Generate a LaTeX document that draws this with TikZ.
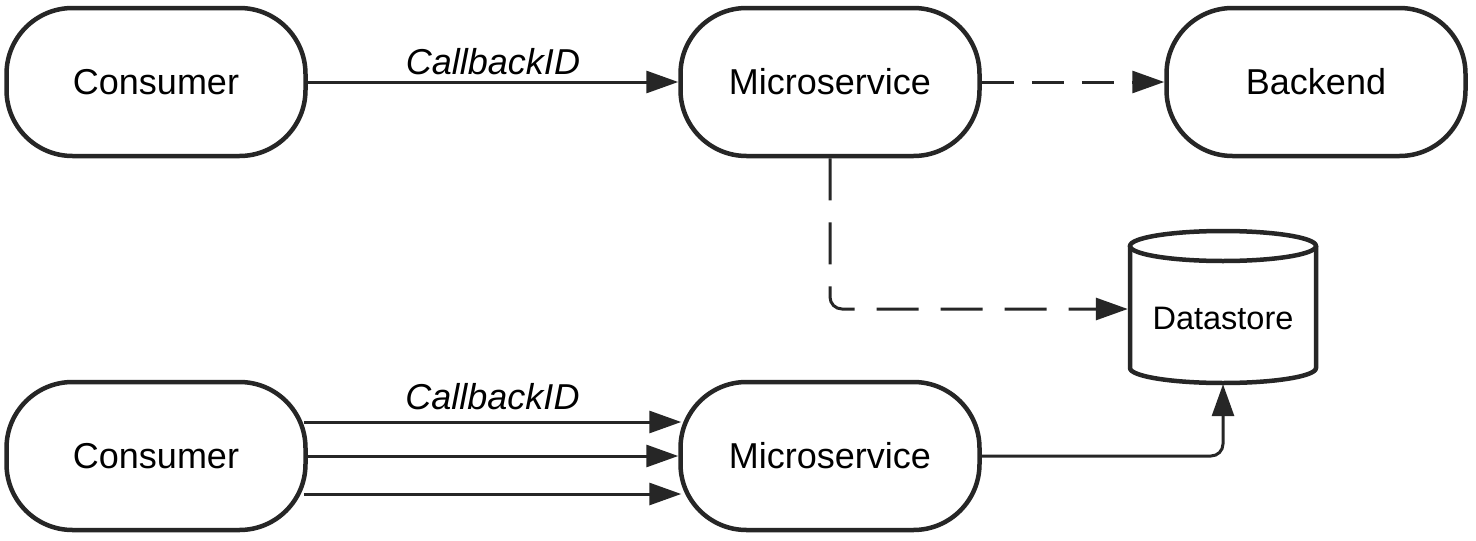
\documentclass[tikz,border=0pt]{standalone}
\usepackage{fontspec}
\setmainfont{Liberation Sans}
\usetikzlibrary{arrows.meta, calc}

\tikzset{
  pill/.style={draw=black!85, line width=4.5pt, rounded corners=66pt,
    minimum width=299pt, minimum height=148pt, inner sep=0pt,
    font=\fontsize{36}{43}\selectfont},
  cyl/.style={draw=black!85, line width=4.5pt},
  flow/.style={line width=3pt, draw=black!85,
    -{Triangle[length=32pt,width=22pt]}},
  dashflow/.style={flow, dash pattern=on 32pt off 18pt},
  longdash/.style={flow, dash pattern=on 42pt off 22pt},
  cblabel/.style={font=\fontsize{36}{43}\selectfont\itshape, above=2pt},
}

\begin{document}
\begin{tikzpicture}[x=1pt, y=-1pt]
\fill[white] (0,0) rectangle (1476,541);
\useasboundingbox (0,0) rectangle (1476,541);
% obere Reihe
\node[pill] (cons1) at (156,82) {Consumer};
\node[pill] (ms1) at (830,82) {Microservice};
\node[pill] (back) at (1316,82) {Backend};
% Datastore
\node[minimum width=190pt, minimum height=154pt, inner sep=0pt] (store) at (1223,307) {};
\draw[cyl] ($(store.center)+(-93,-61)$) -- ($(store.center)+(-93,61)$)
  arc[start angle=180, end angle=360, x radius=93pt, y radius=15pt]
  -- ($(store.center)+(93,-61)$);
\draw[cyl] ($(store.center)+(0,-61)$) ellipse[x radius=93pt, y radius=15pt];
\node[font=\fontsize{32.5}{39}\selectfont] (storetxt) at ($(store.center)+(0,11)$) {Datastore};
\draw[flow] (cons1) -- node[cblabel] {CallbackID} (ms1);
\draw[dashflow] (ms1) -- (back);
\draw[longdash, rounded corners=12pt] (ms1.south) |- ($(store.west)+(0,2)$);
% untere Reihe
\node[pill] (cons2) at (156,456) {Consumer};
\node[pill] (ms2) at (830,456) {Microservice};
\draw[flow] ($(cons2.east)+(-4,-34)$) -- node[cblabel, above=5pt] {CallbackID} ($(ms2.west)+(3,-34)$);
\draw[flow] (cons2) -- (ms2);
\draw[flow] ($(cons2.east)+(-4,38)$) -- ($(ms2.west)+(3,38)$);
\draw[flow, rounded corners=12pt] (ms2.east) -| (store.south);
\end{tikzpicture}
\end{document}
